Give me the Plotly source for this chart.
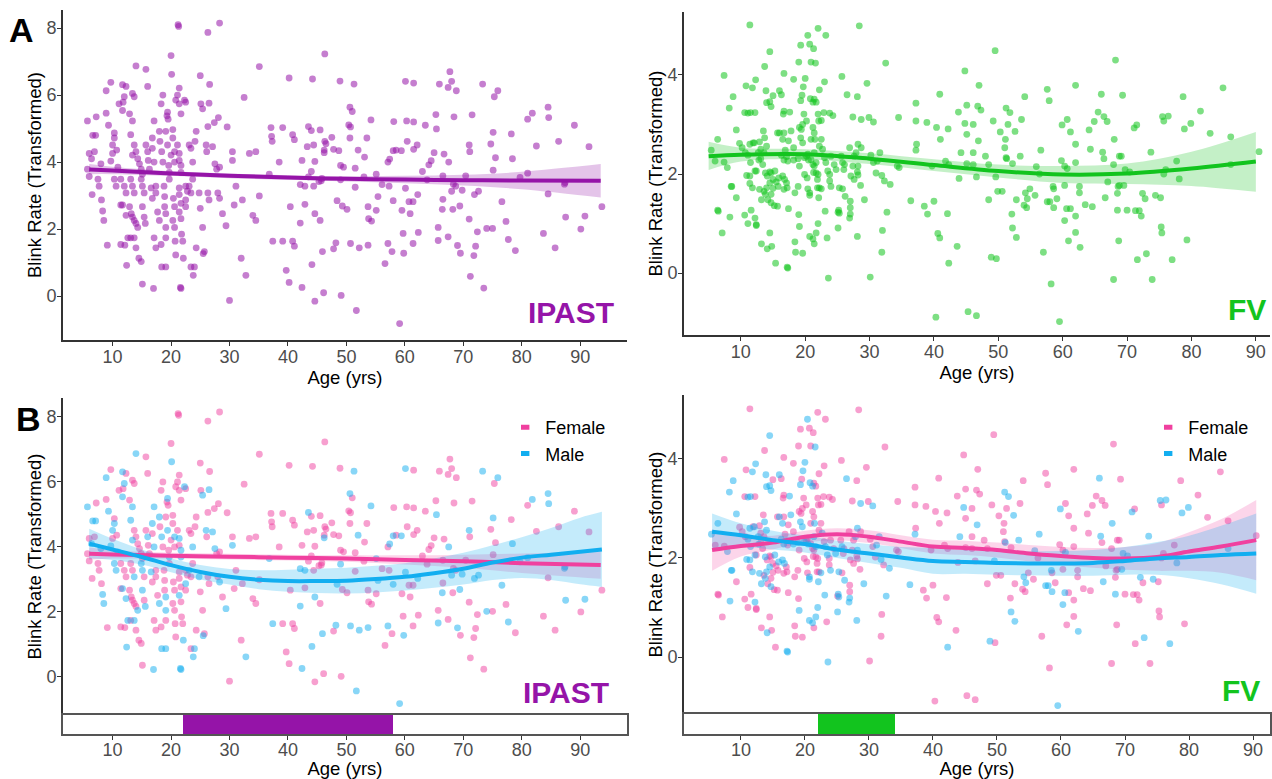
import plotly.graph_objects as go

W, H = 1272, 779

# ---------------- IPAST: blink rate (transformed) vs age, by sex ----------------
ipast_female = [
    (7.2, 5.35), (6.0, 4.26), (6.9, 4.31), (5.7, 3.79), (6.0, 3.57), (6.5, 3.03), (7.7, 3.28), (7.5, 3.49),
    (8.1, 2.87), (8.9, 5.46), (9.1, 1.52), (9.7, 6.38), (10.3, 4.87), (10.0, 4.26), (10.7, 4.36), (11.1, 5.74),
    (11.8, 5.79), (12.3, 6.26), (11.4, 3.49), (12.0, 3.28), (12.3, 3.08), (11.4, 2.72), (11.4, 1.54), (12.1, 1.52),
    (12.9, 5.44), (13.4, 6.05), (13.7, 5.95), (13.7, 4.51), (14.0, 4.31), (14.3, 4.10), (13.1, 3.49), (13.4, 3.28),
    (12.9, 2.67), (13.2, 2.46), (13.4, 2.36), (13.7, 2.26), (14.0, 2.17), (13.1, 1.74), (14.0, 1.44), (14.5, 1.13),
    (14.9, 1.03), (15.1, 0.36), (14.6, 3.95), (14.9, 3.79), (15.1, 3.64), (15.4, 3.08), (15.4, 2.36), (15.7, 6.77),
    (16.0, 6.26), (15.7, 4.51), (16.1, 4.05), (16.3, 3.79), (16.8, 2.92), (16.8, 4.41), (17.4, 3.28), (17.4, 3.08),
    (17.1, 1.74), (17.4, 1.44), (17.7, 2.51), (18.3, 5.74), (18.6, 6.00), (18.1, 4.62), (18.6, 4.00), (18.3, 1.54),
    (18.8, 3.28), (18.9, 2.97), (18.9, 2.67), (19.1, 1.74), (19.3, 5.38), (19.5, 5.28), (19.1, 4.92), (19.6, 3.90),
    (19.7, 3.49), (20.0, 4.21), (20.0, 7.18), (20.3, 4.97), (20.3, 4.72), (20.6, 4.00), (20.4, 2.92), (20.6, 2.67),
    (20.3, 2.26), (20.6, 2.05), (20.7, 1.64), (20.8, 1.23), (20.8, 5.85), (21.1, 6.00), (21.4, 5.74), (21.2, 8.10),
    (21.3, 8.05), (21.1, 4.51), (21.4, 4.05), (21.4, 3.23), (21.4, 3.03), (21.7, 2.77), (21.7, 2.31), (21.4, 6.21),
    (21.7, 5.44), (21.8, 1.85), (22.0, 1.64), (22.5, 5.79), (22.5, 3.28), (22.8, 3.13), (22.5, 2.67), (23.1, 4.51),
    (23.4, 4.41), (23.4, 3.08), (23.7, 3.49), (23.4, 0.87), (24.3, 1.44), (24.3, 4.92), (24.1, 4.62), (25.0, 2.62),
    (25.0, 6.58), (25.1, 5.74), (25.4, 2.05), (25.7, 1.33), (26.1, 4.31), (26.3, 3.08), (26.5, 2.87), (26.3, 5.06),
    (26.3, 7.87), (26.6, 6.32), (27.8, 3.79), (28.3, 3.85), (27.4, 5.18), (28.1, 5.33), (28.3, 8.15), (28.0, 3.08),
    (28.8, 2.46), (29.6, 5.05), (30.0, -0.13), (30.5, 4.31), (30.8, 2.72), (31.1, 3.28), (32.0, 1.13), (32.2, 2.87),
    (32.5, 5.93), (33.4, 4.26), (34.5, 4.31), (35.1, 2.99), (34.0, 2.41), (34.5, 2.26), (35.1, 6.85), (37.1, 5.03),
    (37.2, 4.77), (37.3, 4.62), (38.5, 4.00), (39.1, 5.03), (39.1, 1.64), (39.7, 0.77), (40.2, 0.41), (40.2, 6.51),
    (40.4, 2.67), (40.8, 4.82), (41.1, 4.67), (40.8, 1.64), (41.1, 1.49),
    (44.2, 6.48), (46.3, 7.23), (48.9, 6.42), (51.0, 5.51), (50.4, 5.11), (50.7, 5.05), (44.0, 4.94), (44.4, 4.51),
    (45.5, 4.96), (43.3, 4.46), (46.3, 4.62), (46.5, 4.55), (46.2, 4.36), (47.5, 4.74), (47.8, 4.38), (48.7, 4.34),
    (50.6, 4.72), (53.5, 4.72), (53.1, 4.15), (42.4, 4.05), (44.6, 4.02), (44.0, 3.72), (43.5, 3.56), (49.0, 3.90),
    (49.5, 3.85), (51.5, 3.82), (44.4, 3.28), (45.8, 3.51), (45.7, 3.44), (45.3, 3.42), (51.5, 3.25), (53.0, 3.56),
    (42.9, 2.74), (45.5, 2.26), (49.3, 2.69), (50.1, 2.59), (53.7, 2.67), (55.1, 2.56), (53.8, 2.31), (54.3, 2.24),
    (47.8, 1.41), (44.6, -0.15), (46.1, 0.10), (49.1, 0.02), (56.6, 0.97), (57.8, 1.33), (59.7, 1.87), (61.4, 1.57),
    (62.3, 1.90), (58.1, 5.21), (60.3, 5.23), (61.5, 5.20), (61.5, 6.36), (56.1, 3.33), (57.3, 3.28), (57.1, 4.00),
    (58.5, 4.36), (59.5, 2.56), (60.7, 2.82), (60.9, 2.46), (61.4, 2.82), (60.4, 4.62), (61.5, 4.38), (62.1, 4.51),
    (63.5, 5.10), (63.0, 3.72), (63.8, 3.47), (64.1, 3.92), (64.5, 4.04), (65.0, 4.28), (65.3, 5.42), (65.9, 6.33),
    (67.4, 6.23), (68.0, 6.41), (68.8, 6.13), (67.7, 6.70), (68.4, 5.35), (66.7, 4.24), (66.5, 3.59), (66.5, 2.89),
    (68.3, 3.34), (68.7, 3.28), (68.2, 2.59), (65.7, 2.05), (67.4, 1.77), (69.5, 1.28), (71.8, 1.21), (71.1, 4.31),
    (71.5, 5.41), (70.4, 3.59), (71.0, 2.30), (71.2, 0.59), (72.1, 1.49), (72.4, 1.92), (73.5, 0.24), (75.0, 2.02),
    (75.3, 5.95), (74.7, 4.54), (75.5, 4.13), (75.1, 3.76), (77.3, 2.23), (78.9, 1.36), (78.2, 4.84), (81.0, 5.28),
    (82.5, 4.48), (83.7, 1.87), (84.5, 3.05), (85.7, 1.44), (86.3, 4.62), (89.0, 5.10), (90.1, 2.00), (91.5, 4.46),
    (93.7, 2.67),
]

ipast_male = [
    (5.7, 5.23), (6.6, 4.80), (7.1, 4.80), (6.4, 4.10), (8.0, 3.95), (8.3, 2.54), (8.9, 6.13), (8.5, 2.26),
    (9.3, 5.10), (10.3, 4.72), (10.0, 4.51), (9.7, 4.03), (10.3, 3.49), (10.6, 3.28), (10.9, 3.85), (12.0, 5.95),
    (11.7, 6.31), (11.7, 5.54), (11.7, 2.72), (12.3, 2.41), (12.6, 1.74), (12.4, 0.92), (13.1, 4.82), (13.4, 5.23),
    (14.0, 6.87), (13.4, 4.21), (13.7, 3.08), (14.3, 2.05), (13.7, 1.74), (14.9, 3.49), (15.1, 3.28), (15.1, 2.67),
    (15.6, 2.17), (16.0, 4.31), (16.6, 3.23), (17.1, 5.23), (16.8, 4.72), (17.1, 4.00), (17.0, 0.23), (18.0, 2.26),
    (18.0, 4.92), (18.4, 4.31), (18.4, 0.87), (19.1, 0.87), (19.1, 2.46), (19.1, 2.05), (19.4, 5.49), (19.4, 4.51),
    (19.7, 3.69), (20.1, 6.62), (20.6, 4.31), (21.4, 4.26), (21.7, 3.90), (21.7, 3.69), (21.4, 2.51), (22.1, 1.13),
    (21.7, 0.23), (21.6, 0.26), (22.3, 5.85), (22.5, 2.87), (23.7, 4.00), (23.1, 3.28), (24.0, 0.87), (23.8, 0.62),
    (24.8, 3.08), (25.4, 5.59), (25.5, 1.27), (26.0, 4.51), (26.5, 5.76), (27.1, 4.46), (27.5, 3.95), (28.3, 2.92),
    (29.4, 2.10), (30.5, 4.05), (32.8, 0.62), (36.8, 3.64), (37.4, 1.64),
    (51.3, 6.33), (50.6, 5.64), (54.2, 5.26), (43.5, 5.06), (46.2, 4.28), (52.0, 4.36), (49.0, 3.47), (42.1, 3.33),
    (42.9, 3.28), (55.1, 3.64), (42.1, 2.18), (44.6, 2.46), (48.4, 2.85), (45.9, 1.33), (48.2, 1.59), (50.7, 1.57),
    (52.2, 1.44), (53.7, 1.52), (44.1, 0.94), (42.4, 0.26), (51.7, -0.43), (59.1, -0.82), (57.1, 1.57), (59.8, 1.28),
    (60.1, 6.41), (55.4, 2.97), (57.4, 4.09), (58.0, 4.34), (59.4, 4.34), (58.0, 2.85), (60.1, 3.22), (62.2, 3.03),
    (65.4, 4.99), (67.5, 4.00), (66.4, 2.59), (68.0, 3.13), (69.8, 3.16), (69.4, 2.69), (65.7, 1.66), (69.0, 1.51),
    (71.0, 4.51), (71.9, 3.03), (72.6, 3.13), (73.3, 6.33), (74.0, 2.02), (75.1, 4.89), (75.9, 6.13), (76.6, 2.82),
    (77.7, 1.69), (78.4, 4.10), (81.8, 5.46), (81.0, 3.67), (79.7, 3.54), (84.5, 5.64), (84.6, 5.33), (87.3, 3.34),
    (87.4, 3.39), (87.5, 2.36), (90.8, 2.39),
]

# ---------------- FV: blink rate (transformed) vs age, by sex ----------------
fv_female = [
    (11.4, 5.01), (22.0, 4.94), (23.2, 4.80), (19.3, 4.60), (20.7, 4.62), (21.3, 4.53), (28.4, 4.99), (20.9, 4.26),
    (19.0, 4.26), (32.5, 4.24), (7.4, 3.99), (10.8, 3.78), (10.6, 3.24), (16.7, 4.03), (13.7, 4.17), (18.2, 3.91),
    (23.0, 3.86), (22.2, 3.70), (25.7, 3.97), (29.6, 3.83), (12.2, 3.24), (15.0, 3.58), (16.3, 3.60), (16.7, 3.27),
    (16.6, 3.21), (19.5, 3.59), (19.8, 3.21), (20.2, 3.07), (21.4, 3.51), (21.7, 3.45), (22.0, 3.21), (22.1, 3.07),
    (22.5, 3.08), (22.9, 3.24), (23.8, 3.23), (24.3, 3.18), (28.1, 3.56), (27.4, 3.15), (29.9, 3.14), (34.5, 3.14),
    (37.2, 3.43), (37.2, 3.07), (38.9, 3.04), (40.9, 3.61), (40.4, 2.94), (41.0, 2.70), (42.2, 2.91), (7.4, 2.24),
    (6.0, 2.26), (9.8, 2.62), (10.2, 2.53), (11.9, 2.63), (10.7, 2.43), (12.9, 2.65), (13.1, 2.50), (13.5, 2.87),
    (13.6, 2.43), (11.4, 1.81), (12.4, 2.06), (13.1, 2.31), (13.4, 2.19), (14.1, 1.96), (13.6, 1.65), (14.2, 1.48),
    (14.7, 1.59), (15.0, 1.71), (15.2, 1.36), (15.7, 1.35), (14.5, 2.04), (14.7, 2.02), (15.0, 1.89), (15.5, 1.84),
    (15.8, 1.75), (15.7, 2.83), (16.7, 2.83), (17.3, 2.26), (16.9, 2.48), (17.1, 1.82), (16.7, 1.69), (17.2, 1.72),
    (17.4, 2.67), (18.2, 2.53), (19.1, 2.16), (18.4, 1.62), (18.9, 1.75), (19.1, 2.94), (19.4, 2.90), (19.6, 3.00),
    (20.2, 2.36), (20.4, 2.40), (19.9, 1.99), (20.3, 1.92), (20.4, 1.70), (20.9, 2.70), (21.2, 2.94), (21.4, 2.83),
    (20.9, 2.29), (21.2, 2.19), (21.4, 2.16), (21.3, 2.03), (21.7, 2.02), (22.0, 1.99), (21.9, 1.89), (21.9, 1.72),
    (22.2, 1.72), (22.2, 2.56), (22.5, 2.70), (23.0, 2.33), (23.8, 1.99), (24.0, 2.36), (23.8, 1.86), (24.5, 2.19),
    (25.6, 2.36), (26.1, 2.19), (26.0, 2.09), (25.8, 1.70), (26.9, 2.53), (27.4, 2.16), (27.6, 2.36), (27.1, 1.96),
    (27.6, 1.89), (27.0, 1.45), (27.0, 1.32), (28.7, 2.53), (28.1, 2.04), (28.2, 1.98), (28.6, 1.77), (30.2, 2.38),
    (30.6, 2.23), (31.0, 2.02), (32.3, 1.86), (34.6, 2.13), (34.3, 2.16), (37.3, 2.60), (38.5, 1.35), (39.0, 1.19),
    (39.7, 2.16), (40.0, 1.45), (41.8, 2.26), (42.3, 2.19), (42.1, 1.20), (6.4, 1.27), (6.5, 1.25), (7.1, 0.81),
    (9.3, 1.52), (10.6, 1.17), (11.1, 1.00), (11.6, 1.27), (12.4, 0.98), (12.4, 0.96), (13.2, 0.59), (14.5, 0.81),
    (14.8, 0.54), (15.4, 0.20), (17.4, 1.30), (18.4, 0.63), (19.0, 1.18), (19.6, 0.40), (18.5, 0.42), (21.4, 0.59),
    (23.4, 0.71), (25.1, 1.23), (30.1, -0.08), (32.0, 0.86), (31.9, 0.42), (40.3, -0.89), (40.6, 0.80), (40.9, 0.71),
    (49.5, 4.49), (44.8, 4.08), (68.2, 4.30), (47.0, 3.79), (57.6, 3.71), (62.0, 3.79), (54.1, 3.56), (57.9, 3.48),
    (69.3, 3.59), (78.7, 3.56), (84.9, 3.74), (43.8, 3.25), (45.1, 3.39), (46.8, 3.37), (47.3, 3.29), (49.2, 3.07),
    (53.6, 3.10), (46.1, 3.00), (45.1, 2.80), (51.5, 3.00), (50.3, 2.85), (60.7, 3.10), (61.2, 2.85), (65.5, 3.25),
    (64.9, 3.06), (66.4, 3.16), (66.9, 3.06), (64.1, 2.89), (62.0, 2.60), (71.5, 2.99), (75.7, 3.07), (81.4, 3.27),
    (82.9, 2.82), (86.1, 2.75), (51.0, 2.53), (51.1, 2.70), (46.1, 2.43), (48.0, 2.36), (51.2, 2.33), (45.1, 2.21),
    (46.1, 2.19), (48.5, 2.19), (52.2, 2.21), (56.4, 2.00), (59.8, 2.27), (60.3, 2.16), (62.0, 2.23), (64.3, 2.50),
    (66.4, 2.31), (67.9, 2.19), (68.8, 2.36), (69.1, 2.36), (77.7, 2.26), (90.5, 2.45), (75.7, 2.00), (76.0, 2.09),
    (43.9, 1.91), (46.6, 1.94), (48.5, 1.48), (49.9, 1.65), (50.6, 1.65), (52.8, 1.48), (54.9, 1.70), (55.7, 1.57),
    (54.0, 1.37), (54.4, 1.32), (52.1, 1.19), (58.6, 1.70), (59.1, 1.50), (60.3, 1.77), (61.2, 1.30), (62.0, 1.15),
    (62.0, 0.82), (60.9, 0.65), (62.6, 1.75), (62.6, 1.62), (63.5, 1.38), (64.6, 1.34), (67.0, 1.84), (68.6, 1.75),
    (68.8, 1.77), (68.5, 1.61), (70.0, 1.27), (71.3, 1.26), (71.9, 1.26), (72.2, 1.15), (72.8, 1.50), (75.2, 1.52),
    (68.7, 0.65), (75.3, 0.93), (75.4, 0.81), (71.6, 0.27), (79.3, 0.67), (67.9, -0.13), (73.9, -0.13), (58.2, -0.22),
    (49.7, 0.29), (45.3, -0.78), (46.6, -0.86), (57.0, 0.42), (43.6, 0.54),
]

fv_male = [
    (20.4, 4.80), (14.5, 4.47), (21.6, 4.24), (12.3, 3.90), (11.8, 3.74), (20.0, 3.93), (19.7, 3.76), (8.8, 3.56),
    (8.2, 3.33), (11.5, 3.24), (11.1, 3.23), (13.9, 3.68), (14.0, 3.44), (14.7, 3.36), (14.5, 3.46), (16.0, 3.68),
    (17.6, 3.25), (19.3, 3.48), (20.8, 3.52), (21.2, 3.45), (26.5, 3.60), (28.7, 3.10), (30.6, 3.05), (6.4, 2.70),
    (5.4, 2.48), (7.9, 2.13), (9.3, 2.89), (11.4, 2.60), (11.1, 2.38), (11.5, 2.23), (12.1, 2.63), (13.7, 2.73),
    (12.7, 2.43), (14.0, 2.56), (10.9, 1.97), (11.4, 1.96), (11.8, 1.72), (12.2, 2.06), (12.8, 2.28), (13.8, 2.02),
    (14.5, 1.82), (12.9, 1.69), (13.2, 1.48), (13.8, 1.59), (14.0, 1.72), (14.7, 1.42), (15.3, 2.06), (15.9, 1.92),
    (16.0, 2.83), (16.5, 2.70), (16.3, 2.38), (16.7, 2.28), (17.1, 2.35), (16.5, 1.96), (16.8, 1.89), (17.8, 2.87),
    (18.2, 2.28), (18.9, 2.31), (19.3, 2.73), (19.6, 2.63), (19.9, 2.33), (20.5, 2.28), (20.7, 1.62), (20.7, 1.57),
    (21.5, 2.70), (21.7, 2.23), (21.4, 2.43), (22.5, 1.70), (22.1, 1.52), (22.7, 2.50), (23.2, 2.23), (23.5, 2.06),
    (24.0, 1.75), (24.8, 2.09), (25.3, 1.72), (25.2, 1.27), (25.8, 2.23), (26.2, 1.55), (27.9, 2.43), (26.9, 1.11),
    (28.2, 2.60), (28.2, 2.16), (29.2, 1.48), (31.2, 2.26), (31.9, 1.97), (31.6, 2.43), (33.2, 1.79), (32.7, 1.23),
    (36.4, 1.46), (37.2, 2.48), (8.5, 1.75), (8.6, 1.75), (8.3, 1.13), (12.2, 1.11), (14.1, 0.49), (17.2, 0.12),
    (17.3, 0.10), (19.1, 0.94), (20.7, 0.74), (21.2, 0.69), (21.7, 0.81), (22.0, 1.00), (23.1, 1.25), (23.6, -0.10),
    (25.3, 1.21), (25.1, 0.91), (27.0, 1.19), (28.1, 0.74), (42.3, 0.20),
    (66.0, 3.61), (51.2, 3.33), (51.8, 3.24), (44.8, 3.02), (52.6, 2.86), (59.9, 2.99), (71.1, 2.93), (75.5, 3.16),
    (76.4, 3.17), (78.9, 2.91), (79.9, 3.02), (68.0, 2.70), (46.9, 2.67), (44.2, 2.43), (51.3, 2.31), (53.4, 2.36),
    (56.6, 2.48), (55.9, 2.15), (60.7, 2.11), (66.2, 2.44), (73.7, 2.44), (86.1, 2.19), (69.7, 2.09), (70.4, 2.04),
    (49.6, 1.94), (54.2, 1.62), (54.5, 1.50), (57.6, 1.44), (58.0, 1.44), (58.5, 1.75), (58.6, 1.32), (60.3, 1.06),
    (60.6, 1.30), (62.7, 0.52), (66.6, 1.52), (69.5, 1.77), (68.5, 1.27), (72.4, 1.61), (74.4, 1.57), (73.0, 0.39),
    (77.0, 0.27), (48.9, 0.32), (59.5, -0.98), (52.2, 0.91), (52.8, 0.72), (78.1, 1.90),
]

# ---------------- Smoothed fits with confidence bands ----------------
ipast_fit_age = [6, 10, 20, 30, 40, 50, 60, 70, 80, 93.5]
ipast_fit = [3.78, 3.75, 3.66, 3.59, 3.54, 3.50, 3.48, 3.46, 3.45, 3.44]
ipast_fit_hi = [3.94, 3.86, 3.73, 3.66, 3.61, 3.58, 3.59, 3.62, 3.71, 3.94]
ipast_fit_lo = [3.64, 3.64, 3.59, 3.52, 3.47, 3.42, 3.37, 3.30, 3.19, 2.94]

fv_fit_age = [5, 10, 20, 30, 40, 50, 60, 70, 80, 90]
fv_fit = [2.36, 2.39, 2.40, 2.31, 2.18, 2.06, 1.99, 2.01, 2.11, 2.25]
fv_fit_hi = [2.65, 2.53, 2.50, 2.42, 2.30, 2.19, 2.16, 2.21, 2.45, 2.85]
fv_fit_lo = [2.08, 2.25, 2.30, 2.20, 2.06, 1.93, 1.82, 1.80, 1.76, 1.64]

ipast_f_fit_age = [6, 10, 20, 30, 40, 50, 60, 70, 80, 93.5]
ipast_f_fit = [3.79, 3.77, 3.73, 3.70, 3.67, 3.64, 3.60, 3.56, 3.50, 3.44]
ipast_f_fit_hi = [3.98, 3.90, 3.82, 3.79, 3.76, 3.74, 3.74, 3.76, 3.80, 3.87]
ipast_f_fit_lo = [3.60, 3.64, 3.64, 3.61, 3.58, 3.54, 3.46, 3.36, 3.20, 3.02]

ipast_m_fit_age = [6, 10, 15, 20, 25, 30, 35, 40, 45, 50, 55, 60, 65, 70, 75, 80, 85, 90, 93.7]
ipast_m_fit = [4.10, 3.92, 3.69, 3.44, 3.23, 3.08, 2.99, 2.95, 2.95, 2.96, 3.01, 3.08, 3.19, 3.33, 3.52, 3.67, 3.76, 3.85, 3.92]
ipast_m_fit_hi = [4.56, 4.25, 3.92, 3.64, 3.44, 3.32, 3.28, 3.30, 3.33, 3.36, 3.42, 3.50, 3.64, 3.82, 4.05, 4.30, 4.58, 4.90, 5.08]
ipast_m_fit_lo = [3.64, 3.60, 3.46, 3.22, 3.00, 2.84, 2.70, 2.62, 2.58, 2.57, 2.60, 2.66, 2.74, 2.84, 2.98, 3.04, 2.98, 2.85, 2.77]

fv_sex_fit_age = [5.5, 10, 15, 20, 25, 30, 35, 40, 45, 50, 55, 60, 65, 70, 75, 80, 85, 90.5]
fv_f_fit = [2.16, 2.24, 2.31, 2.43, 2.48, 2.43, 2.33, 2.23, 2.20, 2.16, 2.09, 2.04, 2.00, 1.99, 2.02, 2.13, 2.23, 2.36]
fv_f_fit_hi = [2.58, 2.45, 2.45, 2.55, 2.60, 2.56, 2.46, 2.37, 2.35, 2.31, 2.26, 2.22, 2.20, 2.22, 2.30, 2.52, 2.78, 3.17]
fv_f_fit_lo = [1.74, 2.03, 2.17, 2.31, 2.36, 2.30, 2.20, 2.09, 2.06, 2.01, 1.93, 1.86, 1.80, 1.76, 1.74, 1.74, 1.70, 1.55]
fv_m_fit = [2.53, 2.46, 2.36, 2.28, 2.17, 2.09, 2.01, 1.94, 1.92, 1.90, 1.89, 1.89, 1.90, 1.94, 1.99, 2.02, 2.06, 2.09]
fv_m_fit_hi = [2.90, 2.70, 2.55, 2.45, 2.35, 2.28, 2.22, 2.20, 2.16, 2.14, 2.13, 2.14, 2.16, 2.22, 2.32, 2.45, 2.65, 2.90]
fv_m_fit_lo = [2.16, 2.22, 2.17, 2.11, 2.00, 1.90, 1.80, 1.68, 1.68, 1.66, 1.65, 1.64, 1.64, 1.66, 1.66, 1.59, 1.47, 1.28]

# Age windows highlighted under the sex-split panels
ipast_window = (22, 58)
fv_window = (22, 34)

age_ticks = [10, 20, 30, 40, 50, 60, 70, 80, 90]
rate_ticks = [0, 2, 4, 6, 8]

PURPLE = "#9514A8"
GREEN = "#12C41E"
PINK = "#F0409F"
BLUE = "#12AEF0"
FONT = "Liberation Sans, Arial, sans-serif"


def unzip(pairs):
    return [p[0] for p in pairs], [p[1] for p in pairs]


def rgba(hex_color, a):
    h = hex_color.lstrip("#")
    r, g, b = int(h[0:2], 16), int(h[2:4], 16), int(h[4:6], 16)
    return f"rgba({r},{g},{b},{a})"


fig = go.Figure()


def add_points(pairs, color, xa, ya, opacity=0.55):
    x, y = unzip(pairs)
    fig.add_trace(go.Scatter(
        x=x, y=y, mode="markers", xaxis=xa, yaxis=ya, showlegend=False, hoverinfo="skip",
        marker=dict(size=6.8, color=color, opacity=opacity, line=dict(width=0)),
    ))


def add_band(age, lo, hi, color, xa, ya, alpha):
    fig.add_trace(go.Scatter(
        x=age, y=hi, mode="lines", xaxis=xa, yaxis=ya, showlegend=False, hoverinfo="skip",
        line=dict(width=0, shape="spline", color=rgba(color, 0)),
    ))
    fig.add_trace(go.Scatter(
        x=age, y=lo, mode="lines", xaxis=xa, yaxis=ya, showlegend=False, hoverinfo="skip",
        line=dict(width=0, shape="spline", color=rgba(color, 0)),
        fill="tonexty", fillcolor=rgba(color, alpha),
    ))


def add_fit(age, fit, color, xa, ya):
    fig.add_trace(go.Scatter(
        x=age, y=fit, mode="lines", xaxis=xa, yaxis=ya, showlegend=False, hoverinfo="skip",
        line=dict(width=4, shape="spline", color=color),
    ))


# Panel A: IPAST
add_points(ipast_female + ipast_male, PURPLE, "x", "y")
add_band(ipast_fit_age, ipast_fit_lo, ipast_fit_hi, PURPLE, "x", "y", 0.25)
add_fit(ipast_fit_age, ipast_fit, PURPLE, "x", "y")

# Panel A: FV
add_points(fv_female + fv_male, GREEN, "x2", "y2")
add_band(fv_fit_age, fv_fit_lo, fv_fit_hi, GREEN, "x2", "y2", 0.25)
add_fit(fv_fit_age, fv_fit, GREEN, "x2", "y2")

# Panel B: IPAST by sex
add_points(ipast_female, PINK, "x3", "y3", 0.5)
add_points(ipast_male, BLUE, "x3", "y3", 0.5)
add_band(ipast_f_fit_age, ipast_f_fit_lo, ipast_f_fit_hi, PINK, "x3", "y3", 0.22)
add_band(ipast_m_fit_age, ipast_m_fit_lo, ipast_m_fit_hi, BLUE, "x3", "y3", 0.25)
add_fit(ipast_f_fit_age, ipast_f_fit, PINK, "x3", "y3")
add_fit(ipast_m_fit_age, ipast_m_fit, BLUE, "x3", "y3")

# Panel B: FV by sex
add_points(fv_female, PINK, "x4", "y4", 0.5)
add_points(fv_male, BLUE, "x4", "y4", 0.5)
add_band(fv_sex_fit_age, fv_f_fit_lo, fv_f_fit_hi, PINK, "x4", "y4", 0.22)
add_band(fv_sex_fit_age, fv_m_fit_lo, fv_m_fit_hi, BLUE, "x4", "y4", 0.25)
add_fit(fv_sex_fit_age, fv_f_fit, PINK, "x4", "y4")
add_fit(fv_sex_fit_age, fv_m_fit, BLUE, "x4", "y4")

# Legend keys for the sex-split panels
for leg, xa, ya in (("legend", "x3", "y3"), ("legend2", "x4", "y4")):
    for name, color in (("Female", PINK), ("Male", BLUE)):
        fig.add_trace(go.Scatter(
            x=[None], y=[None], mode="markers", name=name, legend=leg, xaxis=xa, yaxis=ya,
            marker=dict(symbol="line-ew", size=6, color=color, line=dict(width=5, color=color)),
        ))

# Highlighted age windows drawn as horizontal bars in the strips
for (lo, hi), color, xa, ya in ((ipast_window, PURPLE, "x5", "y5"), (fv_window, GREEN, "x6", "y6")):
    fig.add_trace(go.Bar(
        x=[hi - lo], base=[lo], y=[0.5], orientation="h", width=[1.0], xaxis=xa, yaxis=ya,
        marker=dict(color=color, line=dict(width=0)), showlegend=False, hoverinfo="skip",
    ))

AX = "#333333"
TICKF = dict(family=FONT, size=18, color="#4D4D4D")
TITLEF = dict(family=FONT, size=18.5, color="#000000")


def xaxis(domain, rng, anchor, visible=True, title=True, label_shift=-4, title_gap=0):
    d = dict(domain=domain, range=rng, anchor=anchor, showgrid=False, zeroline=False,
             tickvals=age_ticks, ticks="outside", ticklen=4, tickwidth=1.2, tickcolor=AX,
             showline=True, linecolor=AX, linewidth=1.6, tickfont=TICKF, visible=visible,
             ticklabelstandoff=label_shift)
    if title:
        d["title"] = dict(text="Age (yrs)", font=TITLEF, standoff=title_gap)
    return d


def yaxis(domain, rng, anchor, ticks):
    return dict(domain=domain, range=rng, anchor=anchor, showgrid=False, zeroline=False,
                tickvals=ticks, ticks="outside", ticklen=4, tickwidth=1.2, tickcolor=AX,
                showline=True, linecolor=AX, linewidth=1.6, tickfont=TICKF, ticklabelstandoff=-3,
                title=dict(text="Blink Rate (Transformed)", font=TITLEF, standoff=0))


LX = [63 / W, 628 / W]
RX = [685 / W, 1.0]

legend_style = dict(xanchor="left", yanchor="top", bgcolor="rgba(0,0,0,0)", traceorder="normal",
                    font=dict(family=FONT, size=18, color="#000000"), itemsizing="trace",
                    tracegroupgap=0)

strip_y = dict(range=[0, 1], showgrid=False, zeroline=False, showticklabels=False, ticks="",
               showline=True, mirror=True, linecolor="#555555", linewidth=2)

fig.update_layout(
    width=W, height=H, margin=dict(l=0, r=0, t=0, b=0),
    paper_bgcolor="white", plot_bgcolor="white",
    font=dict(family=FONT),
    bargap=0,
    xaxis=xaxis(LX, [1.5, 98.0], "y"),
    yaxis=yaxis([1 - 340 / H, 1 - 10 / H], [-1.31, 8.54], "x", rate_ticks),
    xaxis2=xaxis(RX, [1.16, 92.2], "y2"),
    yaxis2=yaxis([1 - 335 / H, 1 - 12 / H], [-1.25, 5.27], "x2", [0, 2, 4]),
    xaxis3=xaxis(LX, [1.5, 98.0], "y3", visible=False, title=False),
    yaxis3=yaxis([1 - 715 / H, 1 - 398 / H], [-1.17, 8.58], "x3", rate_ticks),
    xaxis4=xaxis(RX, [1.1, 92.65], "y4", visible=False, title=False),
    yaxis4=yaxis([1 - 714 / H, 1 - 395 / H], [-1.15, 5.29], "x4", [0, 2, 4]),
    xaxis5=dict(xaxis(LX, [1.5, 98.0], "y5", label_shift=-6, title_gap=3),
                mirror=True, linecolor="#555555", linewidth=2),
    yaxis5=dict(strip_y, domain=[1 - 734 / H, 1 - 715 / H], anchor="x5"),
    xaxis6=dict(xaxis(RX, [1.1, 92.65], "y6", label_shift=-6, title_gap=3),
                mirror=True, linecolor="#555555", linewidth=2),
    yaxis6=dict(strip_y, domain=[1 - 734 / H, 1 - 714 / H], anchor="x6"),
    legend=dict(legend_style, x=506 / W, y=1 - 409 / H),
    legend2=dict(legend_style, x=1150 / W, y=1 - 409 / H),
)

annotations = [
    dict(text="<b>A</b>", x=22 / W, y=1 - 30 / H, font=dict(family=FONT, size=34, color="#000000"),
         xanchor="center", yanchor="middle"),
    dict(text="<b>B</b>", x=29 / W, y=1 - 419 / H, font=dict(family=FONT, size=34, color="#000000"),
         xanchor="center", yanchor="middle"),
    dict(text="<b>IPAST</b>", x=617 / W, y=1 - 312 / H, font=dict(family=FONT, size=30, color=PURPLE),
         xanchor="right", yanchor="middle"),
    dict(text="<b>FV</b>", x=1270 / W, y=1 - 310 / H, font=dict(family=FONT, size=30, color=GREEN),
         xanchor="right", yanchor="middle"),
    dict(text="<b>IPAST</b>", x=612 / W, y=1 - 692 / H, font=dict(family=FONT, size=30, color=PURPLE),
         xanchor="right", yanchor="middle"),
    dict(text="<b>FV</b>", x=1264 / W, y=1 - 690 / H, font=dict(family=FONT, size=30, color=GREEN),
         xanchor="right", yanchor="middle"),
]
for a in annotations:
    a.update(xref="paper", yref="paper", showarrow=False)
fig.update_layout(annotations=annotations)

fig.write_html("out.html")
